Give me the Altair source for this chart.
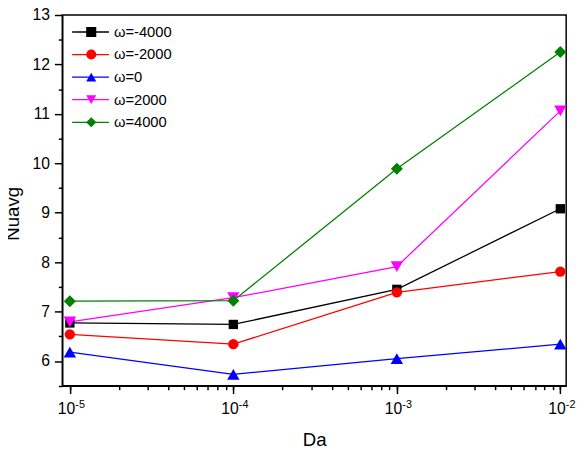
import json
import altair as alt
import pandas as pd

# ---- data ----
da_values = [1e-5, 1e-4, 1e-3, 1e-2]
series_names = ["ω=-4000", "ω=-2000", "ω=0", "ω=2000", "ω=4000"]
nu_m4000 = [6.77, 6.74, 7.45, 9.08]
nu_m2000 = [6.54, 6.34, 7.39, 7.81]
nu_0 = [6.18, 5.73, 6.05, 6.34]
nu_p2000 = [6.79, 7.28, 7.91, 11.06]
nu_p4000 = [7.21, 7.22, 9.89, 12.25]
series_values = [nu_m4000, nu_m2000, nu_0, nu_p2000, nu_p4000]

colors = ["#000000", "#FF0000", "#0000FF", "#FF00FF", "#008000"]
shapes = ["square", "circle", "triangle-up", "triangle-down", "diamond"]
marker_sizes = [90, 110, 160, 160, 150]

y_major = [6, 7, 8, 9, 10, 11, 12, 13]
y_minor = [5.5, 6.5, 7.5, 8.5, 9.5, 10.5, 11.5, 12.5]
x_major = [1e-5, 1e-4, 1e-3, 1e-2]
x_base_label = "10"
x_exp_labels = ["-5", "-4", "-3", "-2"]
x_minor = [m * 10.0 ** k for k in (-5, -4, -3) for m in range(2, 10)]

rows = []
for name, vals in zip(series_names, series_values):
    for d, v in zip(da_values, vals):
        rows.append({"Da": d, "Nu": v, "series": name, "series2": name, "series3": name})
df = pd.DataFrame(rows)

FONT = "Liberation Sans"
x_scale = alt.Scale(type="log", domain=[8.99e-6, 1.086e-2], nice=False)
y_scale = alt.Scale(domain=[5.5, 13], nice=False, zero=False)

lines = alt.Chart(df).mark_line(strokeWidth=1.3).encode(
    x=alt.X("Da:Q", scale=x_scale,
            axis=alt.Axis(values=x_major, title="Da", labelExpr=f"'{x_base_label}'",
                          tickSize=8, labelPadding=7, labelOffset=-4,
                          labelFlush=False, labelOverlap=False,
                          titleFontSize=19, titleFont=FONT, titleFontWeight="normal",
                          titleBaseline="alphabetic", titleY=60.6)),
    y=alt.Y("Nu:Q", scale=y_scale,
            axis=alt.Axis(values=y_major, title="Nuavg", tickSize=8, labelPadding=5,
                          labelFlush=False,
                          titleFontSize=19, titleFont=FONT, titleFontWeight="normal",
                          titleBaseline="alphabetic", titleX=-45, titleY=202,
                          titleAngle=270)),
    color=alt.Color("series:N", sort=series_names,
                    scale=alt.Scale(range=colors),
                    legend=alt.Legend(title=None, orient="none", legendX=9.3, legendY=6.1,
                                      symbolType="stroke", symbolSize=1406,
                                      symbolStrokeWidth=1.3, clipHeight=22.4,
                                      rowPadding=0, padding=0, labelOffset=4.3,
                                      labelFontSize=15, labelFont=FONT,
                                      labelColor="#000000")),
    order="Da:Q",
)

sup_expr = f"{json.dumps(x_exp_labels)}[indexof({json.dumps(x_major)}, datum.value)] || ''"

marker_legend = alt.Legend(title=None, orient="none", legendX=24, legendY=6.1,
                           symbolSize=105, symbolStrokeWidth=0,
                           clipHeight=22.4, rowPadding=0, padding=0,
                           labelOpacity=0, labelFontSize=1)

points = alt.Chart(df).mark_point(filled=True, strokeWidth=0, opacity=1).encode(
    x=alt.X("Da:Q", scale=x_scale,
            axis=alt.Axis(orient="bottom", values=x_major + x_minor, title=None,
                          labelExpr=sup_expr, tickSize=4, labelPadding=9,
                          labelOffset=10, labelFontSize=11, domain=False,
                          labelFlush=False, labelOverlap=False)),
    y=alt.Y("Nu:Q", scale=y_scale,
            axis=alt.Axis(orient="left", values=y_minor, title=None, labels=False,
                          tickSize=4, domain=False)),
    fill=alt.Fill("series2:N",
                  scale=alt.Scale(domain=series_names, range=colors), legend=marker_legend),
    shape=alt.Shape("series2:N",
                    scale=alt.Scale(domain=series_names, range=shapes), legend=marker_legend),
    size=alt.Size("series3:N", sort=series_names,
                  scale=alt.Scale(type="ordinal", range=marker_sizes), legend=None),
)

chart = alt.layer(lines, points).resolve_axis(
    x="independent", y="independent"
).properties(
    width=513.4, height=377.7,
    autosize=alt.AutoSizeParams(type="none"),
    padding={"left": 55.3, "top": 3, "right": 10, "bottom": 60},
    background="white",
).configure_view(
    stroke="#000000", strokeWidth=1.5
).configure_axis(
    grid=False, domainColor="#000000", domainWidth=1.5, tickColor="#000000",
    tickWidth=1.5, labelColor="#000000", labelFont=FONT, labelFontSize=16,
    titleColor="#000000",
)

chart.save("out.html", embed_options={"renderer": "svg", "actions": False})
